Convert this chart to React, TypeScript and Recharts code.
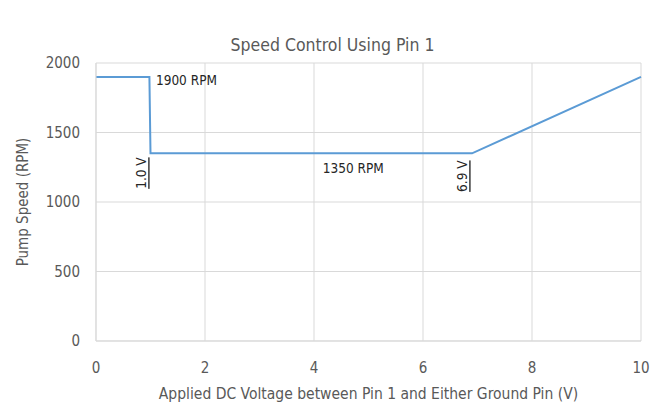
import { LineChart, Line, XAxis, YAxis, CartesianGrid, ReferenceDot } from "recharts";

const voltage = [0, 0.98, 1.0, 6.9, 10];
const speed = [1900, 1900, 1350, 1350, 1900];
const xTicks = [0, 2, 4, 6, 8, 10];
const yTicks = [0, 500, 1000, 1500, 2000];

const notes = [
  { x: 1.1, y: 1880, text: "1900 RPM", rotate: false, anchor: "start" },
  { x: 4.72, y: 1244, text: "1350 RPM", rotate: false, anchor: "middle" },
  { x: 0.83, y: 1208, text: "1.0 V", rotate: true, anchor: "middle" },
  { x: 6.72, y: 1186, text: "6.9 V", rotate: true, anchor: "middle" },
];

const data = voltage.map((v, i) => ({ v, rpm: speed[i] }));

const FONT = "'Liberation Sans Narrow', 'DejaVu Sans Condensed', sans-serif";

export default function App() {
  return (
    <div style={{ position: "absolute", left: 0, top: 0, width: 665, height: 407, background: "#fff", fontFamily: FONT }}>
      <div style={{ position: "absolute", top: 35, width: 665, textAlign: "center", fontSize: 17.5, color: "#595959" }}>
        Speed Control Using Pin 1
      </div>
      <LineChart width={665} height={407} data={data} margin={{ top: 63, right: 24, bottom: 8, left: 20 }}>
        <CartesianGrid stroke="#d9d9d9" strokeWidth={1} horizontalValues={yTicks} verticalValues={xTicks} />
        <XAxis
          dataKey="v"
          type="number"
          domain={[0, 10]}
          ticks={xTicks}
          tickLine={false}
          axisLine={{ stroke: "#d9d9d9" }}
          tick={{ fill: "#595959", fontSize: 15, fontFamily: FONT }}
          tickMargin={15}
          height={58}
          label={{ value: "Applied DC Voltage between Pin 1 and Either Ground Pin (V)", position: "insideBottom", offset: 0, fill: "#595959", fontSize: 15.5, fontFamily: FONT }}
        />
        <YAxis
          type="number"
          domain={[0, 2000]}
          ticks={yTicks}
          tickLine={false}
          axisLine={{ stroke: "#d9d9d9" }}
          tick={{ fill: "#595959", fontSize: 15, fontFamily: FONT }}
          tickMargin={10}
          width={76}
          label={{ value: "Pump Speed (RPM)", angle: -90, position: "insideLeft", offset: 0, dx: 3, fill: "#595959", fontSize: 15, fontFamily: FONT, style: { textAnchor: "middle" } }}
        />
        <Line
          type="linear"
          dataKey="rpm"
          stroke="#5b9bd5"
          strokeWidth={2}
          dot={false}
          isAnimationActive={false}
        />
        {notes.map((n) => (
          <ReferenceDot
            key={n.text}
            x={n.x}
            y={n.y}
            r={0}
            stroke="none"
            fill="none"
            label={(props: any) => {
              const vb = props.viewBox || {};
              const cx = vb.x + (vb.width || 0) / 2;
              const cy = vb.y + (vb.height || 0) / 2;
              return (
                <text
                  x={cx}
                  y={cy}
                  fill="#262626"
                  fontSize={13.5}
                  fontFamily={FONT}
                  textAnchor={n.anchor}
                  dominantBaseline="central"
                  textDecoration={n.rotate ? "underline" : undefined}
                  transform={n.rotate ? `rotate(-90 ${cx} ${cy})` : undefined}
                >
                  {n.text}
                </text>
              );
            }}
          />
        ))}
      </LineChart>
    </div>
  );
}
